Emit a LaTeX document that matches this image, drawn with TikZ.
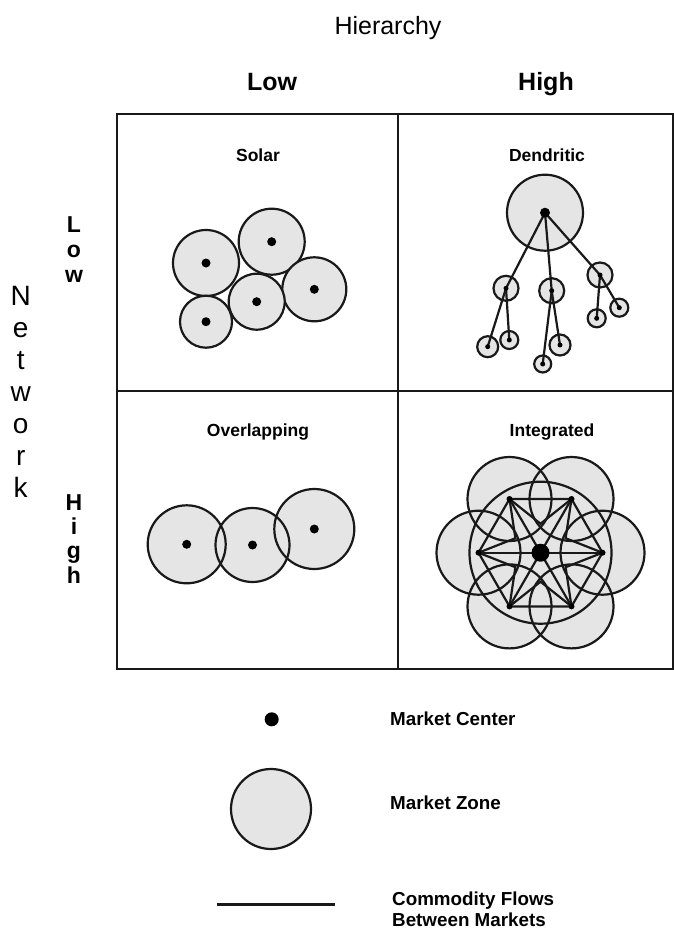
\documentclass[tikz,border=0pt]{standalone}
\usepackage{fontspec}
\setmainfont{Liberation Sans}
\usetikzlibrary{calc}
\definecolor{zonegray}{gray}{0.9}
\begin{document}
\begin{tikzpicture}[x=1pt,y=-1pt]
\tikzstyle{zone}=[circle,draw=black!90,line width=2.2pt,fill=zonegray,inner sep=0pt]
\tikzstyle{mkt}=[circle,fill=black,inner sep=0pt,minimum size=9pt]
\tikzstyle{flow}=[line width=2.2pt,black!90]
\tikzstyle{head}=[font=\fontsize{25}{30}\selectfont,anchor=base,inner sep=0pt]
\tikzstyle{cell}=[font=\fontsize{17.5}{21}\selectfont\bfseries,anchor=base,inner sep=0pt]
\tikzstyle{vlet}=[font=\fontsize{28}{30}\selectfont,anchor=base,inner sep=0pt]
\tikzstyle{legend}=[font=\fontsize{18.8}{21.6}\selectfont\bfseries,anchor=west,align=left,inner sep=0pt]
\useasboundingbox (0,0) rectangle (674,931);
% headings
\node[head] (hier) at (388,35) {Hierarchy};
\node[head,font=\fontsize{25}{30}\selectfont\bfseries] (hlow) at (272,91) {Low};
\node[head,font=\fontsize{25}{30}\selectfont\bfseries] (hhigh) at (546,91) {High};
\foreach \ch [count=\i] in {N,e,t,w,o,r,k}
  \node[vlet] (net\i) at (20.7,273+32*\i) {\ch};
\foreach \ch [count=\i] in {L,o,w}
  \node[vlet,font=\fontsize{23}{25}\selectfont\bfseries] (vlow\i) at (74,207+25*\i) {\ch};
\foreach \ch [count=\i] in {H,i,g,h}
  \node[vlet,font=\fontsize{23}{25}\selectfont\bfseries] (vhigh\i) at (74,485.6+24.4*\i) {\ch};
% frame
\draw[line width=1.9pt,black!90] (117,114) rectangle (673,669);
\draw[line width=1.9pt,black!90] (398,114) -- (398,669);
\draw[line width=1.9pt,black!90] (117,391) -- (673,391);
\node[cell] (solar) at (258,161) {Solar};
\node[cell] (dend) at (547,161) {Dendritic};
\node[cell] (over) at (258,436) {Overlapping};
\node[cell] (integ) at (552,436) {Integrated};
% solar
\foreach \n/\x/\y/\d in {s1/206/263/66,s2/271.7/241.7/66,s3/314.3/289.3/64,s4/256.7/301.7/56,s5/206/321.7/52}{
  \node[zone,minimum size=\d pt] (\n) at (\x,\y) {};
  \node[mkt] (\n m) at (\n) {};
}
% dendritic
\foreach \n/\x/\y/\d in {d0/545/212.7/76,d1/506/288.3/25,d2/551.7/290.7/25,d3/600/275/25,
  d11/487.7/346.7/21,d12/509.3/340/18,d21/542.7/364/17,d22/560/345/21,d31/596.7/318.3/18,d32/619.3/307.7/18}
  \node[zone,minimum size=\d pt] (\n) at (\x,\y) {};
\foreach \a/\b in {d0/d1,d0/d2,d0/d3,d1/d11,d1/d12,d2/d21,d2/d22,d3/d31,d3/d32}
  \draw[flow] (\a.center) -- (\b.center);
\node[mkt,minimum size=10pt] (d0m) at (d0) {};
\foreach \n in {d1,d2,d3,d11,d12,d21,d22,d31,d32}
  \node[mkt,minimum size=5pt] (\n m) at (\n) {};
% overlapping
\foreach \n/\x/\y in {o1/186.7/544.3,o2/252.5/545,o3/314.3/529}
  \coordinate (\n) at (\x,\y);
\foreach \n/\r in {o1/39,o2/37,o3/40}
  \fill[zonegray] (\n) circle (\r pt);
\foreach \n/\r in {o1/39,o2/37,o3/40}{
  \draw[flow] (\n) circle (\r pt);
  \fill (\n) circle (4.5pt);
}
% integrated
\coordinate (ic) at (540.5,552.7);
\foreach \i in {1,...,6}{
  \coordinate (iv\i) at ($(ic)+(60*\i:62)$);
  \coordinate (ia\i) at ($(ic)+(60*\i+30:29)$);
}
\fill[zonegray] (ic) circle (71pt);
\foreach \i in {1,...,6}
  \fill[zonegray] (iv\i) circle (42pt);
\foreach \i in {1,...,6}
  \draw[flow] (iv\i) circle (42pt);
\draw[flow] (ic) circle (71pt);
\draw[flow] (iv1) -- (iv2) -- (iv3) -- (iv4) -- (iv5) -- (iv6) -- cycle;
\draw[flow] (iv1) -- (ia1) -- (iv2) -- (ia2) -- (iv3) -- (ia3) -- (iv4) -- (ia4) -- (iv5) -- (ia5) -- (iv6) -- (ia6) -- cycle;
\foreach \i in {1,...,6}
  \draw[flow] (ic) -- (iv\i);
\foreach \i in {1,...,6}
  \fill (iv\i) circle (3pt);
\fill (ic) circle (9pt);
% legend
\node[mkt,minimum size=14pt] (lc) at (271.7,719.3) {};
\node[zone,minimum size=80pt] (lz) at (271,809) {};
\coordinate (lf1) at (216.7,904.3);
\coordinate (lf2) at (335,904.3);
\draw[line width=3pt,black!90] (lf1) -- (lf2);
\node[legend] (tc) at (390,719) {Market Center};
\node[legend] (tz) at (390,803) {Market Zone};
\node[legend,font=\fontsize{18.8}{21}\selectfont\bfseries] (tf) at (392,909) {Commodity Flows\\Between Markets};
\end{tikzpicture}
\end{document}
